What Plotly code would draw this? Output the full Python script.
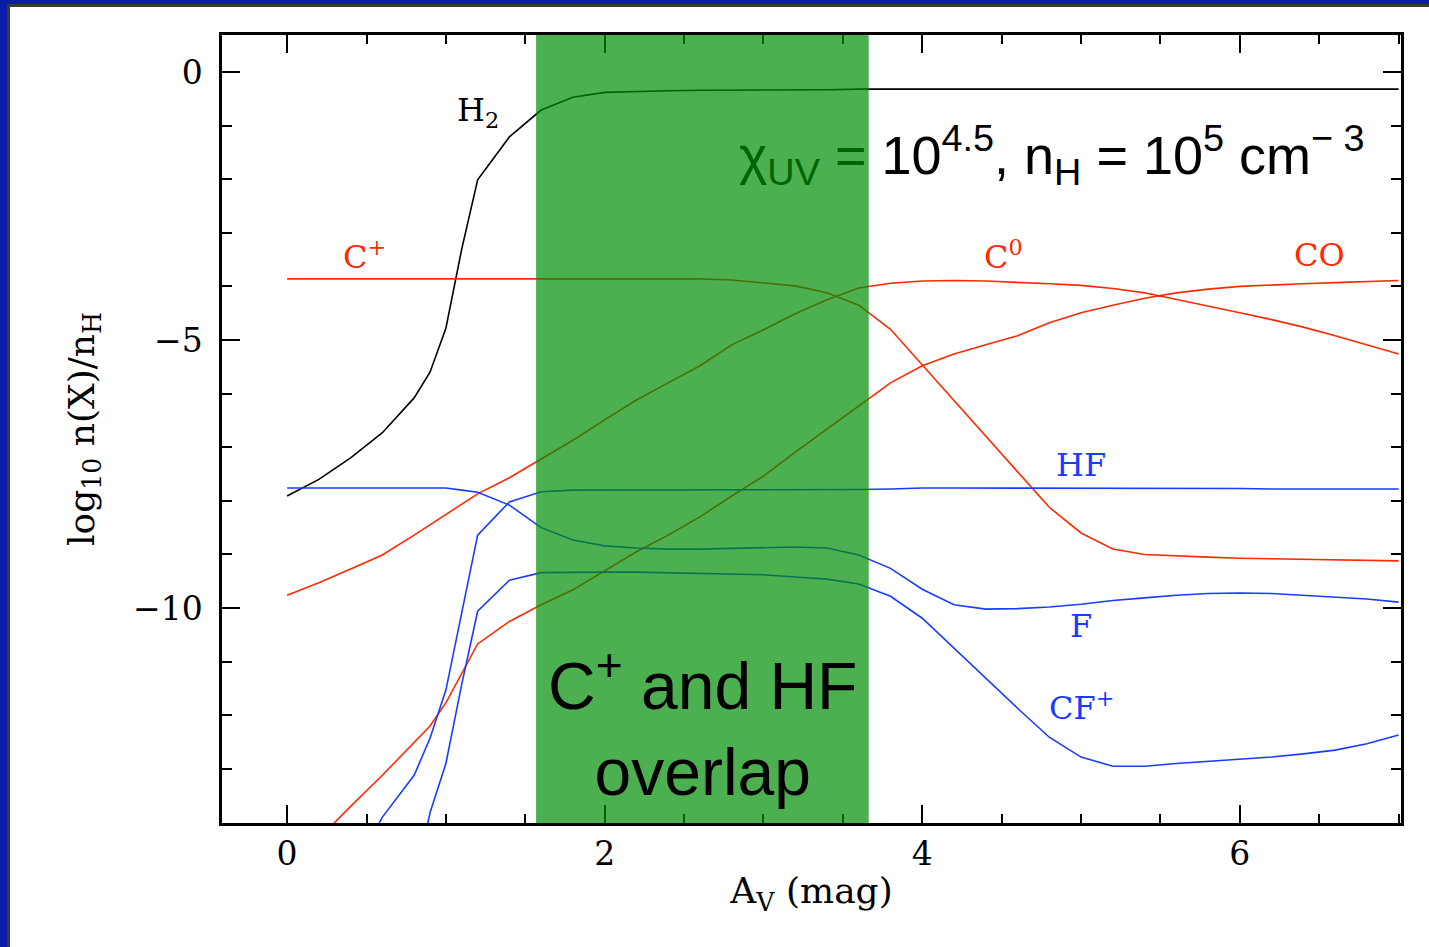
import plotly.graph_objects as go

# ---------------- data ----------------
AV = [0.0, 0.2, 0.4, 0.6, 0.8, 0.9, 1.0, 1.1, 1.2, 1.4, 1.6, 1.8, 2.0, 2.2, 2.4, 2.6,
      2.8, 3.0, 3.2, 3.4, 3.6, 3.8, 4.0, 4.2, 4.4, 4.6, 4.8, 5.0, 5.2, 5.4, 5.6, 5.8,
      6.0, 6.2, 6.4, 6.6, 6.8, 7.0]

H2 = [-7.91, -7.60, -7.20, -6.73, -6.08, -5.60, -4.78, -3.30, -2.01, -1.21, -0.71, -0.47,
      -0.38, -0.36, -0.35, -0.34, -0.34, -0.33, -0.33, -0.33, -0.32, -0.32, -0.32, -0.32,
      -0.32, -0.32, -0.32, -0.32, -0.32, -0.32, -0.32, -0.32, -0.32, -0.32, -0.32, -0.32,
      -0.32, -0.32]

C_plus = [-3.86, -3.86, -3.86, -3.86, -3.86, -3.86, -3.86, -3.86, -3.86, -3.86, -3.86,
          -3.86, -3.86, -3.86, -3.86, -3.86, -3.88, -3.93, -3.99, -4.12, -4.35, -4.80,
          -5.46, -6.12, -6.80, -7.46, -8.12, -8.60, -8.90, -9.00, -9.03, -9.05, -9.07,
          -9.08, -9.10, -9.10, -9.11, -9.12]

C0 = [-9.76, -9.53, -9.27, -9.01, -8.64, -8.45, -8.26, -8.07, -7.87, -7.57, -7.22, -6.87,
      -6.49, -6.12, -5.80, -5.48, -5.09, -4.81, -4.51, -4.25, -4.03, -3.94, -3.90, -3.89,
      -3.90, -3.92, -3.95, -3.98, -4.04, -4.12, -4.24, -4.36, -4.49, -4.62, -4.76, -4.92,
      -5.09, -5.26]

CO = [-14.90, -14.30, -13.70, -13.12, -12.51, -12.20, -11.77, -11.22, -10.67, -10.25,
      -9.94, -9.66, -9.30, -8.95, -8.64, -8.30, -7.91, -7.54, -7.09, -6.66, -6.23, -5.80,
      -5.48, -5.26, -5.09, -4.92, -4.68, -4.49, -4.35, -4.22, -4.12, -4.05, -4.00, -3.97,
      -3.95, -3.93, -3.91, -3.89]

HF = [None, None, -15.0, -13.90, -13.12, -12.43, -11.53, -10.08, -8.64, -8.02, -7.83,
      -7.80, -7.80, -7.80, -7.80, -7.80, -7.80, -7.80, -7.80, -7.80, -7.79, -7.78, -7.76,
      -7.76, -7.76, -7.76, -7.76, -7.76, -7.76, -7.77, -7.77, -7.77, -7.77, -7.78, -7.78,
      -7.78, -7.78, -7.78]

F = [-7.76, -7.76, -7.76, -7.76, -7.76, -7.76, -7.76, -7.80, -7.84, -8.08, -8.50, -8.73,
     -8.84, -8.88, -8.90, -8.90, -8.89, -8.87, -8.86, -8.88, -9.01, -9.26, -9.65, -9.94,
     -10.02, -10.01, -9.98, -9.93, -9.86, -9.81, -9.76, -9.73, -9.72, -9.73, -9.76, -9.79,
     -9.83, -9.89]

CF_plus = [None, None, None, None, -15.2, -13.82, -12.90, -11.42, -10.06, -9.48, -9.34,
           -9.33, -9.33, -9.33, -9.34, -9.35, -9.36, -9.38, -9.42, -9.46, -9.55, -9.78,
           -10.19, -10.75, -11.32, -11.87, -12.41, -12.78, -12.95, -12.95, -12.90, -12.86,
           -12.82, -12.78, -12.72, -12.65, -12.53, -12.37]

overlap_band = [1.568, 3.663]

x_ticks = [0, 2, 4, 6]
y_ticks = [0, -5, -10]
y_ticktext = ["0", "−5", "−10"]

# species labels: (text, x, y, colour key)
labels = [
    ("H<sub>2</sub>", 1.20, -0.75, "k"),
    ("C<sup>+</sup>", 0.49, -3.41, "r"),
    ("C<sup>0</sup>", 4.51, -3.41, "r"),
    ("CO", 6.50, -3.41, "r"),
    ("HF", 5.00, -7.33, "b"),
    ("F", 5.00, -10.34, "b"),
    ("CF<sup>+</sup>", 5.00, -11.83, "b"),
]

# ---------------- style ----------------
RED = "#ff2a00"
BLUE = "#1a3cff"
BLACK = "#000000"
COL = {"k": BLACK, "r": RED, "b": BLUE}
SERIF = "DejaVu Serif, Liberation Serif, serif"
SANS = "Liberation Sans, Arial, sans-serif"

fig = go.Figure()
series = [("H2", H2, BLACK), ("C+", C_plus, RED), ("C0", C0, RED), ("CO", CO, RED),
          ("HF", HF, BLUE), ("F", F, BLUE), ("CF+", CF_plus, BLUE)]
for name, ys, c in series:
    fig.add_trace(go.Scatter(x=AV, y=ys, mode="lines", name=name,
                             line=dict(color=c, width=1.6), connectgaps=False,
                             showlegend=False, hoverinfo="skip"))

# green overlap band (semi-transparent, drawn above the lines)
fig.add_shape(type="rect", xref="x", yref="paper",
              x0=overlap_band[0], x1=overlap_band[1], y0=0, y1=1,
              fillcolor="rgba(0,141,5,0.70)", line=dict(width=0), layer="above")

# blue frame at left and top of the slide
W_PLOT = 1179.0
H_PLOT = 788.0
def px(x):
    return (x - 222) / W_PLOT
def py(y):
    return (823 - y) / H_PLOT

frame = [
    (0, 0, 7, 947, "#0a1ca6"),
    (0, 0, 1429, 4, "#0a1ca6"),
    (7, 4, 10, 947, "#3a3a3a"),
    (7, 4, 1429, 7, "#3a3a3a"),
]
for x0, y0, x1, y1, c in frame:
    fig.add_shape(type="rect", xref="paper", yref="paper",
                  x0=px(x0), x1=px(x1), y0=py(y1), y1=py(y0),
                  fillcolor=c, line=dict(width=0), layer="above")

for txt, x, y, k in labels:
    fig.add_annotation(x=x, y=y, xref="x", yref="y", text=txt, showarrow=False,
                       font=dict(family=SERIF, size=32, color=COL[k]),
                       xanchor="center", yanchor="middle")

fig.add_annotation(
    x=2.834, y=-1.55, xref="x", yref="y", xanchor="left", yanchor="middle",
    showarrow=False,
    text=("<span style='color:#006400'>χ<sub>UV</sub> = </span>"
          "10<sup>4.5</sup>, n<sub>H</sub> = 10<sup>5</sup> cm<sup>− 3</sup>"),
    font=dict(family=SANS, size=54, color="black"))

fig.add_annotation(
    x=2.615, y=-12.17, xref="x", yref="y", xanchor="center", yanchor="middle",
    showarrow=False, text="C<sup>+</sup> and HF<br>overlap",
    font=dict(family=SANS, size=66, color="black"))

axis_common = dict(
    showgrid=False, zeroline=False, showline=True, linecolor="black", linewidth=2.5,
    mirror="allticks", ticks="inside", ticklen=18, tickwidth=2, tickcolor="black",
    tickfont=dict(family=SERIF, size=33, color="black"),
)

fig.update_xaxes(**axis_common, range=[-0.41, 7.015], tickvals=x_ticks,
                 ticktext=[str(v) for v in x_ticks],
                 minor=dict(dtick=0.5, ticklen=9, tickwidth=2, tickcolor="black",
                            ticks="inside"),
                 title=dict(text="A<sub>V</sub> (mag)",
                            font=dict(family=SERIF, size=36, color="black"),
                            standoff=6))
fig.update_yaxes(**axis_common, range=[-14.01, 0.69], tickvals=y_ticks,
                 ticktext=y_ticktext, ticklabelstandoff=10,
                 minor=dict(dtick=1, ticklen=10, tickwidth=2, tickcolor="black",
                            ticks="inside"),
                 title=dict(text="log<sub>10</sub> n(X)/n<sub>H</sub>",
                            font=dict(family=SERIF, size=36, color="black"),
                            standoff=28))

fig.update_layout(width=1429, height=947, paper_bgcolor="white", plot_bgcolor="white",
                  margin=dict(l=222, r=28, t=35, b=124, autoexpand=False),
                  showlegend=False)

fig.write_html("out.html", config={"displayModeBar": False},
               post_script="document.body.style.margin='0';"
                           "document.body.style.overflow='hidden';")
